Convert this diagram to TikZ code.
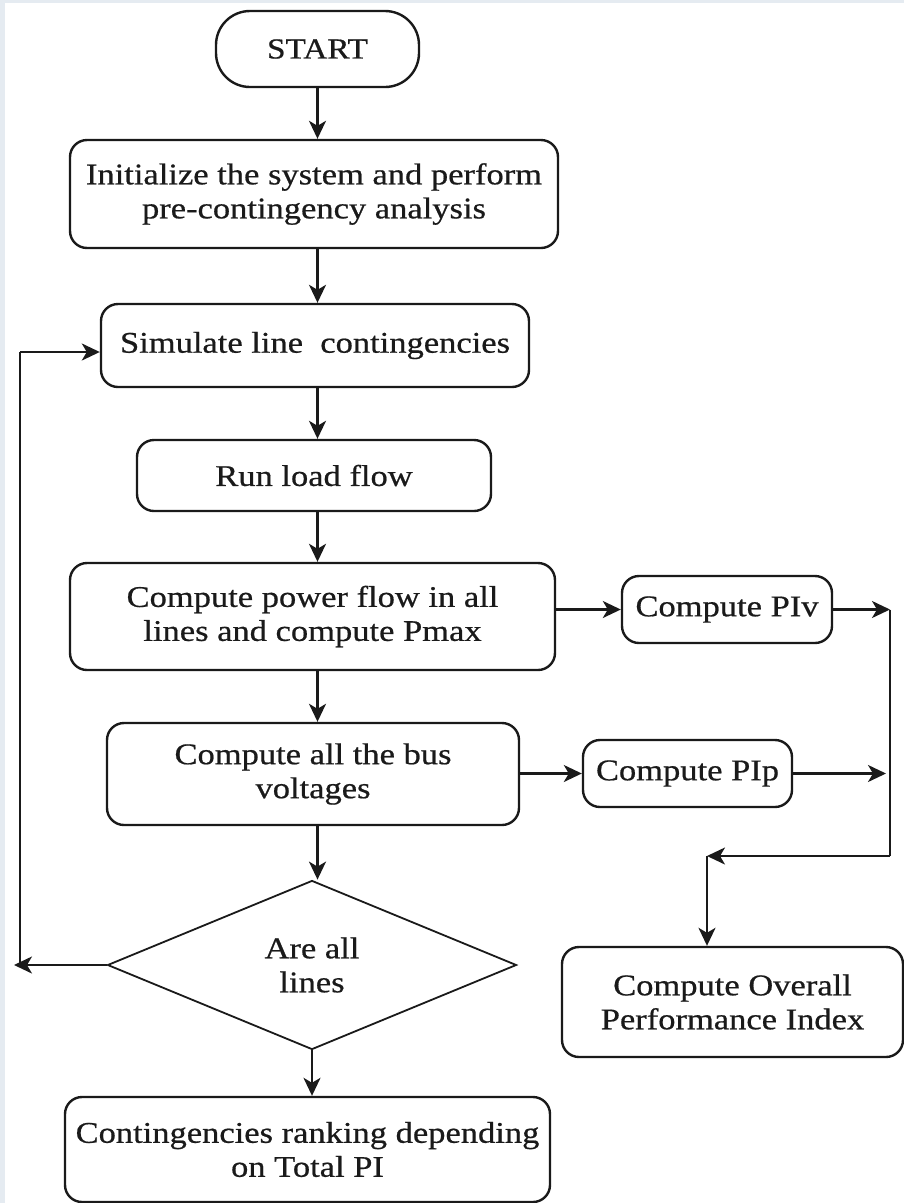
\documentclass[tikz,border=0pt]{standalone}
\usepackage{fontspec}
\setmainfont{Liberation Serif}[FakeStretch=1.15,FakeBold=0.6]
\usetikzlibrary{arrows.meta,shapes.geometric}
\definecolor{pagebg}{HTML}{E5EBF1}
\definecolor{ink}{HTML}{1A1A1A}
\tikzset{
  box/.style={draw=ink, text=ink, line width=2.4pt, rounded corners=17pt, align=center, inner sep=0pt,
    font=\fontsize{30}{34}\selectfont},
  terminal/.style={box, rounded corners=34pt, font=\fontsize{29}{33}\selectfont},
  decision/.style={draw=ink, text=ink, line width=1.8pt, diamond, align=center, inner sep=0pt,
    font=\fontsize{30}{34}\selectfont},
  arr/.style={draw=ink, line width=2.2pt, -{Stealth[length=18pt,width=17pt,inset=5pt]}},
  ln/.style={draw=ink, line width=2.2pt}
}
\begin{document}
\begin{tikzpicture}[x=1pt,y=-1pt]
\useasboundingbox (0,0) rectangle (904,1203);
\fill[pagebg] (0,0) rectangle (904,1203);
\fill[white] (5,3) rectangle (904,1203);

\node[terminal, minimum width=203pt, minimum height=76pt] (start) at (317.5,49) {START};
\node[box, minimum width=488pt, minimum height=108pt] (init) at (314,194)
  {Initialize the system and perform\\pre-contingency analysis};
\node[box, minimum width=428pt, minimum height=83pt] (sim) at (315,345.5)
  {Simulate line\ \ contingencies};
\node[box, minimum width=354pt, minimum height=71pt] (run) at (314,475.5) {Run load flow};
\node[box, minimum width=485pt, minimum height=107pt] (pf) at (312.5,616.5)
  {Compute power flow in all\\lines and compute Pmax};
\node[box, minimum width=210pt, minimum height=67pt] (piv) at (727,609.5) {Compute PIv};
\node[box, minimum width=412pt, minimum height=102pt] (bus) at (313,774)
  {Compute all the bus\\voltages};
\node[box, minimum width=209pt, minimum height=67pt] (pip) at (687.5,773.5) {Compute PIp};
\node[decision, minimum width=409pt, minimum height=169pt] (dec) at (312,965)
  {Are all\\lines};
\node[box, minimum width=341pt, minimum height=110pt] (overall) at (732.5,1002)
  {Compute Overall\\Performance Index};
\node[box, minimum width=485pt, minimum height=105pt] (rank) at (307.5,1149.5)
  {Contingencies ranking depending\\on Total PI};

\coordinate (r1) at (890,609.5);
\coordinate (r2) at (886,773.5);
\coordinate (r3) at (890,856);
\coordinate (c1) at (707,856);
\coordinate (l1) at (14,965);
\coordinate (lb) at (20,965);
\coordinate (l2) at (20,352);

\draw[arr] (start.south -| start) -- (start |- init.north);
\draw[arr] (init.south -| start) -- (start |- sim.north);
\draw[arr] (sim.south -| start) -- (start |- run.north);
\draw[arr] (run.south -| start) -- (start |- pf.north);
\draw[arr] (pf.south -| start) -- (start |- bus.north);
\draw[arr] (bus.south -| start) -- (start |- dec.north);
\draw[arr] (dec.south) -- (dec.south |- rank.north);

\draw[arr] (pf.east |- piv) -- (piv.west);
\draw[arr] (piv.east) -- (r1);
\draw[arr] (bus.east |- pip) -- (pip.west);
\draw[arr] (pip.east) -- (r2);
\draw[ln] (r1) -- (r3);
\draw[arr] (r3) -- (c1);
\draw[arr] (c1) -- (c1 |- overall.north);

\draw[arr] (dec.west) -- (l1);
\draw[ln] (lb) -- (l2);
\draw[arr] (l2) -- (sim.west |- l2);
\end{tikzpicture}
\end{document}
